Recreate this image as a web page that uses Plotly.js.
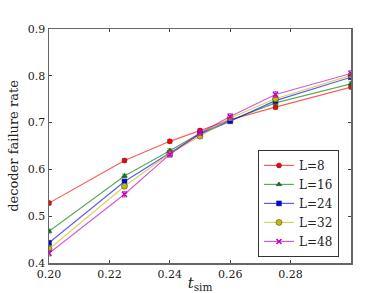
<!DOCTYPE html>
<html>
<head>
<meta charset="utf-8">
<script src="https://cdn.plot.ly/plotly-3.0.1.min.js"></script>
<style>html,body{margin:0;padding:0;background:#fff;}#chart{width:390px;height:293px;}</style>
</head>
<body>
<div id="chart"></div>
<script>
const tsim = [0.20, 0.225, 0.24, 0.25, 0.26, 0.275, 0.30];
const labels = ["L=8", "L=16", "L=24", "L=32", "L=48"];
const rateL8  = [0.528, 0.619, 0.660, 0.683, 0.706, 0.733, 0.776];
const rateL16 = [0.468, 0.586, 0.640, 0.677, 0.705, 0.742, 0.783];
const rateL24 = [0.443, 0.574, 0.635, 0.675, 0.703, 0.747, 0.797];
const rateL32 = [0.430, 0.564, 0.634, 0.671, 0.710, 0.751, 0.801];
const rateL48 = [0.421, 0.547, 0.632, 0.678, 0.713, 0.760, 0.805];
const errL8  = [0.004, 0.004, 0.004, 0.004, 0.004, 0.004, 0.004];
const errL16 = [0.004, 0.004, 0.004, 0.004, 0.004, 0.004, 0.004];
const errL24 = [0.004, 0.004, 0.004, 0.004, 0.004, 0.004, 0.004];
const errL32 = [0.005, 0.005, 0.005, 0.005, 0.005, 0.005, 0.005];
const errL48 = [0.006, 0.006, 0.006, 0.006, 0.006, 0.006, 0.006];
const xTicks = [0.20, 0.22, 0.24, 0.26, 0.28];
const yTicks = [0.4, 0.5, 0.6, 0.7, 0.8, 0.9];

const series = [rateL8, rateL16, rateL24, rateL32, rateL48];
const errs = [errL8, errL16, errL24, errL32, errL48];
const colors = ["#ff0000", "#007f00", "#0000ff", "#bfbf00", "#bf00bf"];
const lineColors = ["rgba(255,0,0,0.65)", "rgba(0,127,0,0.65)", "rgba(0,0,255,0.65)", "rgba(191,191,0,0.65)", "rgba(191,0,191,0.65)"];
const symbols = ["circle", "triangle-up", "square", "circle", "x-thin-open"];
const sizes = [5, 5, 5, 6, 5];

const traces = series.map((ys, i) => ({
  x: tsim, y: ys, name: labels[i], type: "scatter", mode: "lines+markers",
  line: {color: lineColors[i], width: 1.2},
  marker: {symbol: symbols[i], size: sizes[i], color: colors[i],
           line: {color: i === 4 ? colors[i] : "#333", width: i === 4 ? 1.5 : 0.5}},
  error_y: {type: "data", array: errs[i], visible: true, color: lineColors[i], thickness: 1, width: 2.5},
  cliponaxis: true
}));

const fam = "DejaVu Serif, Liberation Serif, serif";
const layout = {
  width: 390, height: 293,
  margin: {l: 49, r: 39, t: 29, b: 30},
  paper_bgcolor: "#fff", plot_bgcolor: "#fff",
  font: {family: fam, size: 11, color: "#222"},
  showlegend: true,
  xaxis: {
    range: [0.20, 0.30], tickvals: xTicks, ticktext: xTicks.map(v => v.toFixed(2)),
    ticks: "inside", ticklen: 3, tickcolor: "#444", showgrid: false, zeroline: false,
    showline: true, linecolor: "#666", linewidth: 1.5, mirror: "ticks",
    tickfont: {family: fam, size: 11, color: "#222"},
    title: {text: "<i>t</i><sub>sim</sub>", font: {family: fam, size: 15, color: "#222"}, standoff: 2}
  },
  yaxis: {
    range: [0.4, 0.9], tickvals: yTicks, ticktext: yTicks.map(v => v.toFixed(1)),
    ticks: "inside", ticklen: 3, tickcolor: "#444", showgrid: false, zeroline: false,
    showline: true, linecolor: "#666", linewidth: 1.5, mirror: "ticks",
    tickfont: {family: fam, size: 11, color: "#222"},
    title: {text: "decoder failure rate", font: {family: fam, size: 13, color: "#222"}, standoff: 6}
  },
  legend: {
    x: 0.692, y: 0.026, xanchor: "left", yanchor: "bottom",
    bgcolor: "#fff", bordercolor: "#333", borderwidth: 1,
    font: {family: fam, size: 12, color: "#222"}, tracegroupgap: 0, itemwidth: 30
  }
};

Plotly.newPlot("chart", traces, layout, {staticPlot: true, displayModeBar: false});
</script>
</body>
</html>
